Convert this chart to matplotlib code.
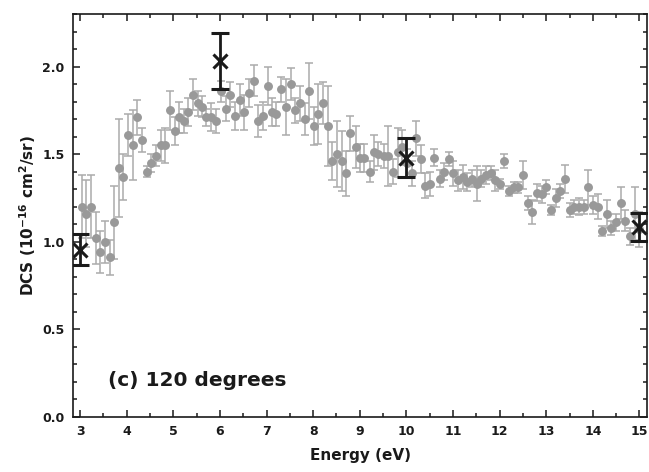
import matplotlib
matplotlib.use("Agg")
import matplotlib.pyplot as plt
from matplotlib.ticker import MultipleLocator

plt.rcParams['font.family'] = ['DejaVu Sans']
plt.rcParams['font.weight'] = 'bold'
plt.rcParams['mathtext.fontset'] = 'custom'
plt.rcParams['mathtext.rm'] = 'DejaVu Sans:bold'
plt.rcParams['mathtext.bf'] = 'DejaVu Sans:bold'
plt.rcParams['mathtext.default'] = 'bf'

# measured (grey) data
energy = [3.03, 3.13, 3.23, 3.33, 3.43, 3.53, 3.63, 3.73, 3.83, 3.93,
          4.03, 4.13, 4.23, 4.33, 4.43, 4.53, 4.63, 4.73, 4.83, 4.93,
          5.03, 5.12, 5.22, 5.32, 5.42, 5.52, 5.62, 5.71, 5.81, 5.91,
          6.02, 6.12, 6.21, 6.32, 6.42, 6.52, 6.62, 6.72, 6.81, 6.92,
          7.02, 7.11, 7.21, 7.31, 7.41, 7.52, 7.62, 7.72, 7.82, 7.92,
          8.02, 8.11, 8.21, 8.31, 8.41, 8.51, 8.61, 8.71, 8.80, 8.91,
          9.00, 9.10, 9.21, 9.30, 9.40, 9.51, 9.61, 9.71, 9.81, 9.91,
          10.01, 10.11, 10.21, 10.31, 10.40, 10.50, 10.60, 10.71, 10.81, 10.91,
          11.01, 11.11, 11.21, 11.31, 11.41, 11.51, 11.61, 11.71, 11.81, 11.91,
          12.01, 12.10, 12.20, 12.30, 12.40, 12.50, 12.60, 12.70, 12.80, 12.90,
          13.00, 13.10, 13.20, 13.30, 13.40, 13.50, 13.60, 13.70, 13.80, 13.90,
          14.00, 14.10, 14.20, 14.30, 14.40, 14.50, 14.60, 14.70, 14.80, 14.90,
          15.00]
dcs = [1.20, 1.16, 1.20, 1.02, 0.94, 1.00, 0.91, 1.11, 1.42, 1.37,
       1.61, 1.55, 1.71, 1.58, 1.40, 1.45, 1.49, 1.55, 1.55, 1.75,
       1.63, 1.71, 1.69, 1.74, 1.84, 1.79, 1.77, 1.71, 1.71, 1.69,
       1.86, 1.76, 1.84, 1.72, 1.81, 1.74, 1.85, 1.92, 1.69, 1.72,
       1.89, 1.74, 1.73, 1.87, 1.77, 1.90, 1.75, 1.79, 1.70, 1.86,
       1.66, 1.73, 1.79, 1.66, 1.46, 1.50, 1.46, 1.39, 1.62, 1.54,
       1.48, 1.48, 1.40, 1.51, 1.50, 1.49, 1.49, 1.40, 1.51, 1.54,
       1.45, 1.39, 1.59, 1.47, 1.32, 1.33, 1.48, 1.36, 1.40, 1.47,
       1.39, 1.35, 1.37, 1.34, 1.36, 1.33, 1.36, 1.38, 1.39, 1.35,
       1.33, 1.46, 1.29, 1.31, 1.31, 1.38, 1.22, 1.17, 1.28, 1.27,
       1.31, 1.18, 1.25, 1.29, 1.36, 1.18, 1.20, 1.20, 1.20, 1.31,
       1.21, 1.20, 1.06, 1.16, 1.08, 1.11, 1.22, 1.12, 1.03, 1.16,
       1.07]
dcs_err = [0.18, 0.19, 0.18, 0.15, 0.12, 0.12, 0.10, 0.21, 0.28, 0.13,
           0.12, 0.20, 0.10, 0.07, 0.03, 0.05, 0.06, 0.09, 0.10, 0.11,
           0.08, 0.09, 0.07, 0.08, 0.09, 0.07, 0.06, 0.05, 0.08, 0.07,
           0.06, 0.07, 0.07, 0.08, 0.09, 0.10, 0.08, 0.09, 0.09, 0.08,
           0.11, 0.08, 0.07, 0.07, 0.16, 0.09, 0.07, 0.10, 0.09, 0.16,
           0.11, 0.17, 0.12, 0.23, 0.11, 0.19, 0.17, 0.13, 0.10, 0.12,
           0.08, 0.08, 0.06, 0.10, 0.07, 0.07, 0.17, 0.07, 0.14, 0.10,
           0.08, 0.07, 0.10, 0.08, 0.07, 0.07, 0.05, 0.05, 0.05, 0.04,
           0.07, 0.06, 0.07, 0.05, 0.05, 0.10, 0.05, 0.05, 0.04, 0.06,
           0.03, 0.04, 0.03, 0.03, 0.03, 0.08, 0.04, 0.07, 0.05, 0.05,
           0.04, 0.03, 0.05, 0.04, 0.08, 0.04, 0.04, 0.05, 0.04, 0.10,
           0.05, 0.07, 0.03, 0.08, 0.04, 0.05, 0.09, 0.06, 0.05, 0.15,
           0.10]

# black cross data
cross_energy = [3.0, 6.0, 10.0, 15.0]
cross_dcs = [0.955, 2.03, 1.48, 1.085]
cross_err = [0.09, 0.16, 0.11, 0.08]

xticks = [3, 4, 5, 6, 7, 8, 9, 10, 11, 12, 13, 14, 15]
yticks = [0.0, 0.5, 1.0, 1.5, 2.0]

fig = plt.figure(figsize=(6.49, 4.72), dpi=100)
ax = fig.add_axes([0.112, 0.117, 0.8855, 0.853])

ax.errorbar(energy, dcs, yerr=dcs_err, fmt='o', color='#999999',
            markersize=5.4, ecolor='#ababab', elinewidth=1.1,
            capsize=3.2, capthick=1.1, zorder=2)
ax.errorbar(cross_energy, cross_dcs, yerr=cross_err, fmt='x', color='#1a1a1a',
            markersize=10, markeredgewidth=2.2, ecolor='#1a1a1a',
            elinewidth=2.0, capsize=6.5, capthick=2.0, zorder=3)

ax.set_xlim(2.84, 15.17)
ax.set_ylim(0.0, 2.3)
ax.set_xticks(xticks)
ax.set_xticklabels([str(t) for t in xticks])
ax.set_yticks(yticks)
ax.set_yticklabels(['%.1f' % t for t in yticks])
ax.xaxis.set_minor_locator(MultipleLocator(0.5))
ax.yaxis.set_minor_locator(MultipleLocator(0.1))
ax.tick_params(which='both', direction='in', top=True, right=True,
               width=1.1, labelsize=9, colors='#1a1a1a')
ax.tick_params(which='major', length=5, pad=6)
ax.tick_params(which='minor', length=2.8)
for lbl in ax.get_xticklabels() + ax.get_yticklabels():
    lbl.set_fontweight('bold')
for s in ax.spines.values():
    s.set_linewidth(1.2)
    s.set_color('#1a1a1a')

ax.set_xlabel('Energy (eV)', fontsize=11, fontweight='bold', labelpad=7,
              color='#1a1a1a')
ax.set_ylabel('DCS (10$^{-16}$ cm$^{2}$/sr)', fontsize=11, fontweight='bold',
              labelpad=3, color='#1a1a1a')

ax.text(3.59, 0.175, '(c) 120 degrees', fontsize=14.5, fontweight='bold',
        va='baseline', ha='left', color='#1a1a1a')

fig.savefig('out.png', dpi=100)
